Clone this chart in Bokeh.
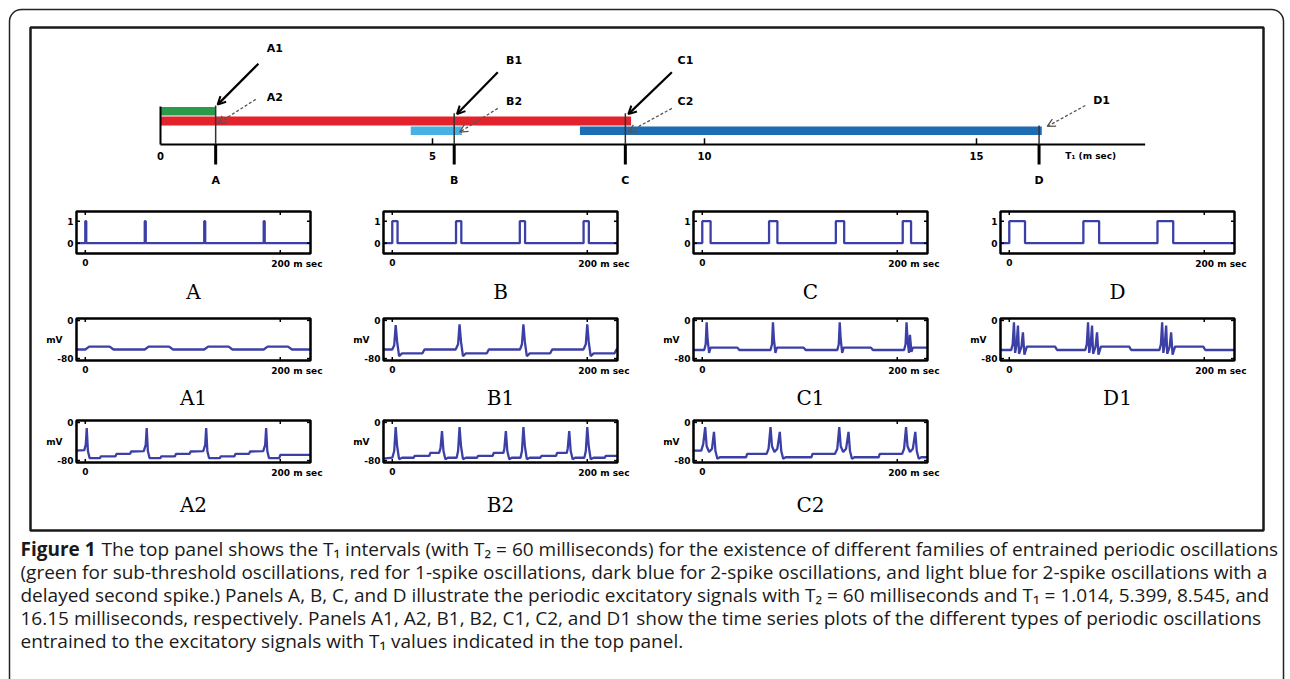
from bokeh.plotting import figure
from bokeh.models import Range1d, BoxAnnotation, Arrow, OpenHead
from bokeh.core.properties import value
from bokeh.embed import file_html
from bokeh.resources import INLINE

# ------------------------------------------------------------------ data
T2 = 60
mark_names = ["A", "B", "C", "D"]
mark_T1 = [1.014, 5.399, 8.545, 16.15]

green_T1 = [0.0, 1.014]
red_T1 = [0.0, 8.65]
lightblue_T1 = [4.6, 5.54]
darkblue_T1 = [7.71, 16.2]
top_ticks = [0, 5, 10, 15]
top_tick_labels = ["0", "5", "10", "15"]

pulse_onsets_A = [0, 61, 122, 183]
pulse_onsets_B = [0, 65.4, 130.8, 196.2]
pulse_onsets_C = [0, 68.5, 137, 205.6]
pulse_onsets_D = [0, 76, 152]
pulse_width = {"A": 1.014, "B": 5.399, "C": 8.545, "D": 16.15}

A1 = [(-9, -61), (0, -61), (4, -55), (25, -55), (29, -61), (61, -61), (65, -55), (86, -55),
      (90, -61), (122, -61), (126, -55), (147, -55), (151, -61), (183, -61), (187, -55),
      (208, -55), (212, -61), (231, -61)]

A2 = [(-9, -59), (-1, -58), (0.5, -47), (1.5, -12), (2.7, -60), (4.5, -75), (15, -75), (16, -71),
      (31, -71), (32, -66), (46, -66), (47, -61), (60, -60), (62, -47), (63, -12), (64.2, -60),
      (66, -75), (77, -75), (78, -71), (92, -71), (93, -66), (107, -66), (108, -61), (121, -60),
      (123, -47), (124, -12), (125.2, -60), (127, -75), (138, -75), (139, -71), (153, -71),
      (154, -66), (168, -66), (169, -61), (182.5, -60), (184.5, -47), (185.5, -12), (186.7, -60),
      (188.5, -75), (199, -75), (200, -68), (231, -68)]

B1 = [(-9, -61), (0, -61), (2, -52), (3.5, -10), (5, -45), (7, -75), (10, -69), (31, -69),
      (33, -61), (65, -61), (67.5, -50), (69, -8), (70.5, -45), (72.5, -75), (75.5, -69),
      (97, -69), (99, -61), (131, -61), (133, -50), (134.5, -8), (136, -45), (138, -75),
      (141, -69), (162, -69), (164, -61), (196, -61), (198.5, -50), (200, -8), (201.5, -45),
      (203.5, -75), (206.5, -69), (228, -69), (230, -61), (231, -61)]

B2 = [(-9, -76), (0, -74), (2, -60), (3.5, -10), (5, -50), (7, -77), (10, -74), (22, -74),
      (23, -70), (38, -70), (39, -64), (48, -64), (49.5, -54), (51, -18), (52.5, -60), (54.5, -77),
      (57, -74), (66, -74), (67.5, -60), (69, -10), (70.5, -50), (72.5, -77), (75.5, -74),
      (87, -74), (88, -70), (103, -70), (104, -64), (114, -64), (115, -54), (116.5, -18),
      (118, -60), (120, -77), (122.5, -74), (131.5, -74), (133, -60), (134.5, -10), (136, -50),
      (138, -77), (141, -74), (152, -74), (153, -70), (168, -70), (169, -64), (179, -64),
      (180, -54), (181.5, -18), (183, -60), (185, -77), (187.5, -74), (197, -74), (198.5, -60),
      (200, -10), (201.5, -50), (203.5, -77), (206.5, -74), (218, -74), (219, -70), (231, -70)]

C1 = [(-9, -62), (2, -62), (3.5, -50), (4.5, -4), (5.5, -40), (7, -68), (8.5, -57), (36, -57),
      (38, -62), (70, -62), (71.5, -50), (72.5, -4), (73.5, -40), (75, -68), (76.5, -57),
      (104, -57), (106, -62), (138.5, -62), (140, -50), (141, -4), (142, -40), (143.5, -68),
      (145, -57), (173, -57), (175, -62), (207, -62), (208.5, -50), (209.5, -4), (210.5, -40),
      (212, -68), (213, -30), (214.5, -66), (216, -57), (231, -57)]

C2 = [(-9, -59), (-1, -59), (1, -45), (3, -10), (4.5, -50), (7, -62), (10, -55), (12, -20),
      (13.5, -60), (15.5, -76), (18, -73), (45, -73), (46, -66), (66, -66), (68, -55), (70, -10),
      (71.5, -50), (74, -62), (77, -55), (79.5, -20), (81, -60), (83, -76), (85.5, -73),
      (112, -73), (113, -66), (136, -66), (138.5, -55), (140.5, -10), (142, -50), (144.5, -62),
      (147.5, -55), (150, -20), (151.5, -60), (153.5, -76), (156, -73), (181, -73), (182, -66),
      (205, -66), (207, -55), (209, -10), (210.5, -50), (213, -62), (216, -55), (218.5, -20),
      (220, -60), (222, -76), (224.5, -73), (231, -73)]

D1 = [(-9, -62), (2, -62), (3.5, -50), (4.8, -4), (6, -68), (7.5, -50), (8.9, -11), (10, -70),
      (12.5, -55), (14, -25), (15.5, -72), (18, -55), (47, -55), (49, -62), (78, -62),
      (79.5, -50), (80.8, -4), (82, -68), (83.5, -50), (84.9, -11), (86, -70), (88.5, -55),
      (90, -25), (91.5, -72), (94, -55), (123, -55), (125, -62), (154, -62), (155.5, -50),
      (156.8, -4), (158, -68), (159.5, -50), (160.9, -11), (162, -70), (164.5, -55), (166, -25),
      (167.5, -72), (170, -55), (199, -55), (201, -62), (231, -62)]

caption_lines = [
    "The top panel shows the T\u2081 intervals (with T\u2082 = 60 milliseconds) for the existence of different families of entrained periodic oscillations",
    "(green for sub-threshold oscillations, red for 1-spike oscillations, dark blue for 2-spike oscillations, and light blue for 2-spike oscillations with a",
    "delayed second spike.) Panels A, B, C, and D illustrate the periodic excitatory signals with T\u2082 = 60 milliseconds and T\u2081 = 1.014, 5.399, 8.545, and",
    "16.15 milliseconds, respectively. Panels A1, A2, B1, B2, C1, C2, and D1 show the time series plots of the different types of periodic oscillations",
    "entrained to the excitatory signals with T\u2081 values indicated in the top panel.",
]

# ------------------------------------------------------------------ canvas
W, H = 1290, 679
OX, OY = 0, 0
p = figure(width=W, height=H, x_range=Range1d(OX, OX + W), y_range=Range1d(OY + H, OY),
           x_axis_type=None, y_axis_type=None, output_backend="svg",
           toolbar_location=None, min_border=0, outline_line_color=None)
p.background_fill_color = "white"


def panel(name, box, xr, yr):
    px0, px1, py0, py1 = box
    kx = (xr[1] - xr[0]) / (px1 - px0)
    xs = xr[0] - (px0 - OX) * kx
    ky = (yr[1] - yr[0]) / (py1 - py0)
    ys = yr[0] - ((OY + H) - py1) * ky
    p.extra_x_ranges[name] = Range1d(xs, xs + W * kx)
    p.extra_y_ranges[name] = Range1d(ys, ys + H * ky)
    return kx, ky


def txt(x, y, s, name=None, size="8px", align="center", baseline="middle", xo=0, yo=0,
        font="DejaVu Sans", style="bold", color="black"):
    kw = {}
    if name:
        kw = dict(x_range_name=name, y_range_name=name)
    p.text(x=x, y=y, text=s, text_font=value(font), text_font_style=style,
           text_font_size=size, text_align=align, text_baseline=baseline,
           x_offset=xo, y_offset=yo, text_color=color, **kw)


# frames
p.add_layout(BoxAnnotation(left=9, right=1283, top=9, bottom=720, border_radius=12,
                           fill_alpha=0, line_color="#222222", line_alpha=1, line_width=1.5))
p.add_layout(BoxAnnotation(left=30, right=1263, top=27, bottom=530,
                           fill_alpha=0, line_color="#1a1a1a", line_alpha=1, line_width=2.5))

# ------------------------------------------------------------------ top panel
TOP = "top"
panel(TOP, (160, 1139.2, 106, 144), (0, 18), (0, 4))
tk = dict(x_range_name=TOP, y_range_name=TOP)
p.quad(left=[green_T1[0]], right=[green_T1[1]], bottom=[3.05], top=[3.95],
       fill_color="#2b9a4a", line_color=None, **tk)
p.quad(left=[red_T1[0]], right=[red_T1[1]], bottom=[2.0], top=[2.95],
       fill_color="#e3222b", line_color=None, **tk)
p.quad(left=[lightblue_T1[0]], right=[lightblue_T1[1]], bottom=[1.0], top=[1.9],
       fill_color="#48b1e4", line_color=None, **tk)
p.quad(left=[darkblue_T1[0]], right=[darkblue_T1[1]], bottom=[1.0], top=[1.9],
       fill_color="#1d6db4", line_color=None, **tk)
# axis
p.segment(x0=[0, 0], y0=[0, 0], x1=[18.1, 0], y1=[0, 4.0], line_color="black", line_width=2, **tk)
p.segment(x0=top_ticks[1:], y0=[0] * 3, x1=top_ticks[1:], y1=[0.65] * 3,
          line_color="black", line_width=1.5, **tk)
txt(top_ticks, [0] * 4, top_tick_labels, TOP, size="10px", yo=11)
txt([17.1], [0], ["T\u2081 (m sec)"], TOP, size="9px", align="center", yo=11)
# markers
mark_top = [4.1, 3.3, 3.3, 2.0]
p.segment(x0=mark_T1, y0=mark_top, x1=mark_T1, y1=[0] * 4, line_color="#333333", line_width=1.5, **tk)
p.segment(x0=mark_T1, y0=[0] * 4, x1=mark_T1, y1=[-2.1] * 4, line_color="black", line_width=3, **tk)
txt(mark_T1, [-3.8] * 4, mark_names, TOP, size="11px")
# arrows and labels
solid = [("A1", 2.1, 10.1, 1.8, 8.5, 1.05, 4.2),
         ("B1", 6.5, 8.85, 6.2, 7.6, 5.45, 3.2),
         ("C1", 9.65, 8.85, 9.4, 7.6, 8.6, 3.2)]
dashed = [("A2", 2.1, 4.9, 1.75, 4.75, 1.05, 2.2),
          ("B2", 6.5, 4.5, 6.2, 3.8, 5.5, 1.3),
          ("C2", 9.65, 4.5, 9.4, 3.8, 8.6, 1.3),
          ("D1", 17.3, 4.6, 17.0, 4.1, 16.3, 1.9)]
for lab, lx, ly, x0, y0, x1, y1 in solid:
    p.add_layout(Arrow(x_start=x0, y_start=y0, x_end=x1, y_end=y1, line_color="black",
                       line_width=2.2, end=OpenHead(size=8, line_color="black", line_width=2),
                       **tk))
    txt([lx], [ly], [lab], TOP, size="11px")
for lab, lx, ly, x0, y0, x1, y1 in dashed:
    p.add_layout(Arrow(x_start=x0, y_start=y0, x_end=x1, y_end=y1, line_color="#555555",
                       line_width=1.3, line_dash="3 2",
                       end=OpenHead(size=8, line_color="#555555", line_width=1.3), **tk))
    txt([lx], [ly], [lab], TOP, size="11px")

# ------------------------------------------------------------------ small panels
XR = (-9, 231)
TRACE = "#3b3fa6"
cols = {"A": 76, "B": 383, "C": 693, "D": 1000}
BW = 234
rows = {1: (211, 253), 2: (318, 360), 3: (420, 462)}
title_y = {1: 291, 2: 397, 3: 504}


def pulse_series(onsets, w):
    t = [XR[0]]
    v = [0]
    for o in onsets:
        t += [o, o, o + w, o + w]
        v += [0, 1, 1, 0]
    t.append(XR[1])
    v.append(0)
    return t, v


def small_panel(name, col, row, t, v, kind):
    x0 = cols[col]
    y0, y1 = rows[row]
    if kind == "pulse":
        yr = (-0.47, 1.44)
        yt, yl = [0, 1], ["0", "1"]
    else:
        yr = (-84, 4)
        yt, yl = [-80, 0], ["-80", "0"]
    kx, ky = panel(name, (x0, x0 + BW, y0, y1), XR, yr)
    kw = dict(x_range_name=name, y_range_name=name)
    p.line(t, v, line_color=TRACE, line_width=2.3, **kw)
    p.quad(left=[XR[0]], right=[XR[1]], bottom=[yr[0]], top=[yr[1]], fill_color=None,
           line_color="black", line_width=2.5, **kw)
    tl = 3.5
    xt = [0, 200]
    p.segment(x0=xt + xt, y0=[yr[1]] * 2 + [yr[0]] * 2, x1=xt + xt,
              y1=[yr[1] - tl * ky] * 2 + [yr[0] + tl * ky] * 2,
              line_color="black", line_width=1.5, **kw)
    p.segment(x0=[XR[0]] * 2 + [XR[1]] * 2, y0=yt + yt,
              x1=[XR[0] + tl * kx] * 2 + [XR[1] - tl * kx] * 2, y1=yt + yt,
              line_color="black", line_width=1.5, **kw)
    txt([0], [yr[0]], ["0"], name, size="9px", baseline="top", yo=5)
    txt([200], [yr[0]], ["200 m sec"], name, size="9px", align="left", baseline="top", xo=-9, yo=5)
    txt([XR[0]] * 2, yt, yl, name, size="9px", align="right", xo=-3)
    if kind == "trace":
        txt([XR[0]], [-40], ["mV"], name, size="9px", align="right", xo=-14)
    txt([x0 + BW / 2], [title_y[row]], [name], None, size="20px", font="DejaVu Serif",
        style="normal")


for col, ons in zip("ABCD", [pulse_onsets_A, pulse_onsets_B, pulse_onsets_C, pulse_onsets_D]):
    t, v = pulse_series(ons, pulse_width[col])
    small_panel(col, col, 1, t, v, "pulse")

traces = {"A1": ("A", 2, A1), "B1": ("B", 2, B1), "C1": ("C", 2, C1), "D1": ("D", 2, D1),
          "A2": ("A", 3, A2), "B2": ("B", 3, B2), "C2": ("C", 3, C2)}
for name, (col, row, data) in traces.items():
    t = [d[0] for d in data]
    v = [d[1] for d in data]
    small_panel(name, col, row, t, v, "trace")

# ------------------------------------------------------------------ caption
CF = "Open Sans"
CS = "19px"
txt([20], [548], ["Figure 1"], None, size=CS, align="left", font=CF, style="bold",
    color="#1a1a1a")
txt([101], [548], [caption_lines[0]], None, size=CS, align="left", font=CF, style="normal",
    color="#1a1a1a")
for i, line in enumerate(caption_lines[1:]):
    txt([20], [571 + 23 * i], [line], None, size=CS, align="left", font=CF, style="normal",
        color="#1a1a1a")

open("out.html", "w").write(file_html(p, INLINE))
